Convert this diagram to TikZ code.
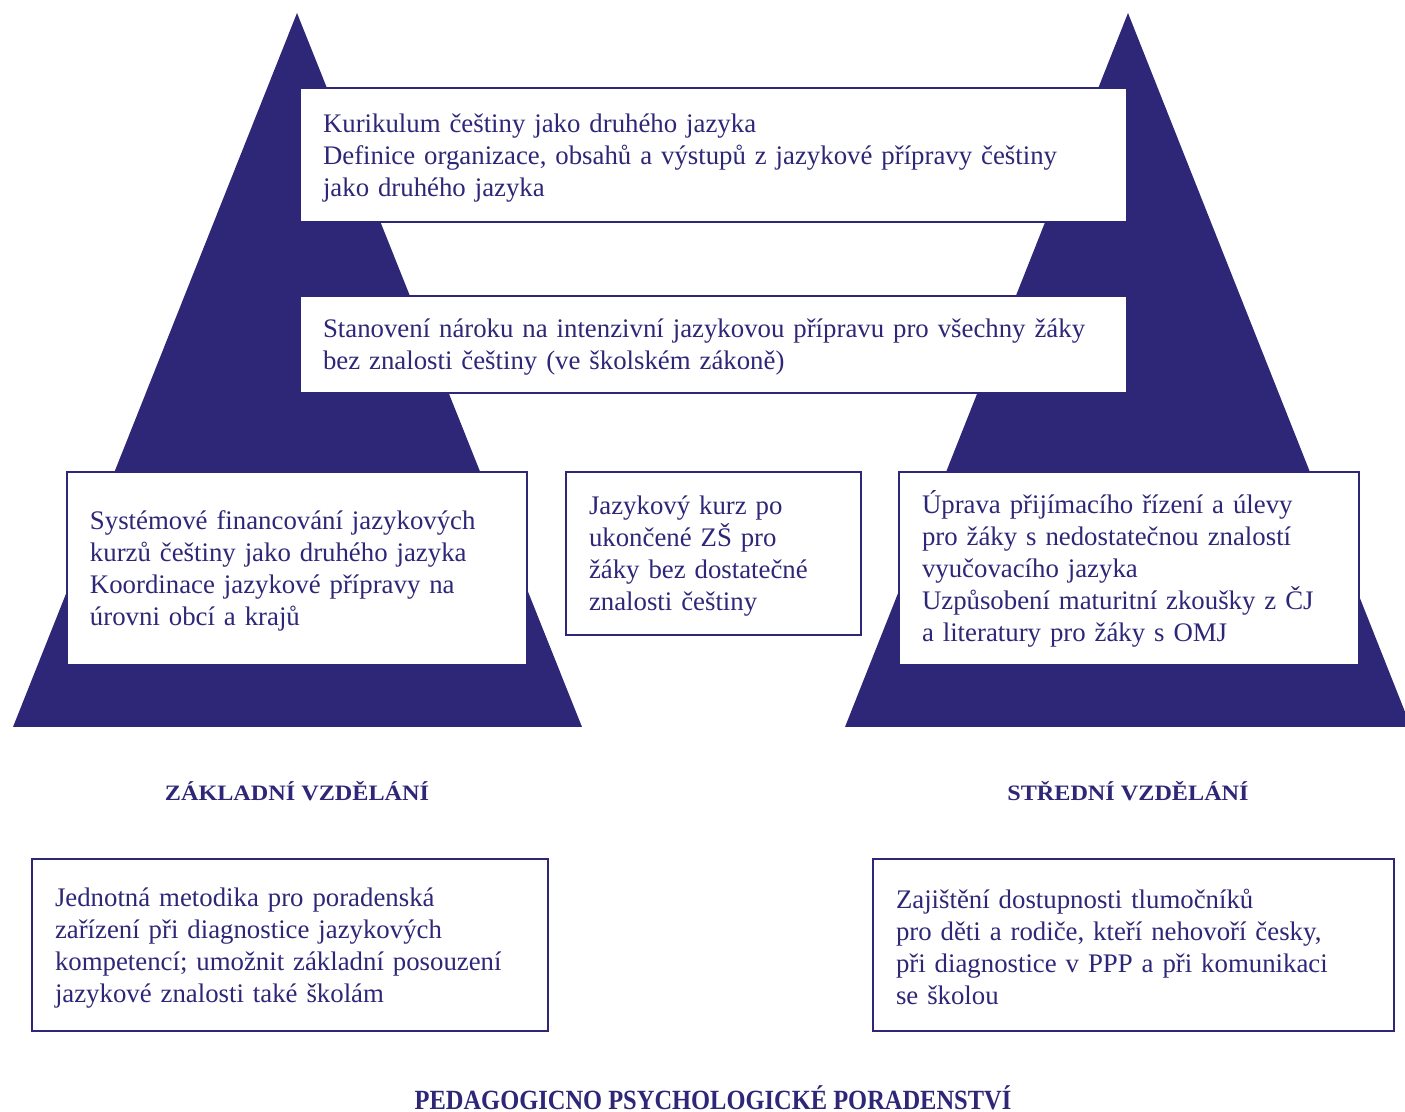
\documentclass[tikz,border=0pt]{standalone}
\usepackage{fontspec}
\setmainfont{Liberation Serif}
\newfontfamily\condfont[FakeStretch=0.88]{Liberation Serif}
\newfontfamily\widefont[FakeStretch=1.1]{Liberation Serif}
\definecolor{navy}{RGB}{46,39,120}
\begin{document}
\begin{tikzpicture}[x=0.5pt,y=-0.5pt,
  txtbox/.style={draw=navy, line width=1.1pt, fill=white, rectangle, inner xsep=11.5pt, inner ysep=0pt,
     align=left, text=navy, font=\fontsize{13.4}{16}\selectfont,
     execute at begin node={\rule{0pt}{12pt}}},
  heading/.style={text=navy, anchor=base, font=\widefont\fontsize{11}{14}\selectfont\bfseries},
  tri/.style={fill=navy, draw=none}]
\useasboundingbox (0,0) rectangle (1405,1112);
\clip (0,0) rectangle (1405,1112);
\fill[white] (0,0) rectangle (1405,1112);
% pyramids
\fill[tri] (297,13) -- (582,727) -- (13,727) -- cycle;
\fill[tri] (1128,13) -- (1411,727) -- (845,727) -- cycle;
% boxes
\node[txtbox, text width=390.5pt, minimum height=67pt] (b1) at (713.5,155)
 {Kurikulum češtiny jako druhého jazyka\\Definice organizace, obsahů a výstupů z jazykové přípravy češtiny\\jako druhého jazyka};
\node[txtbox, text width=390.5pt, minimum height=48.5pt] (b2) at (713.5,344.5)
 {Stanovení nároku na intenzivní jazykovou přípravu pro všechny žáky\\bez znalosti češtiny (ve školském zákoně)};
\node[txtbox, text width=207pt, minimum height=96.5pt] (b3) at (297,568.5)
 {Systémové financování jazykových\\kurzů češtiny jako druhého jazyka\\Koordinace jazykové přípravy na\\úrovni obcí a krajů};
\node[txtbox, text width=124.5pt, minimum height=81.5pt] (b4) at (713.5,553.5)
 {Jazykový kurz po\\ukončené ZŠ pro\\žáky bez dostatečné\\znalosti češtiny};
\node[txtbox, text width=207pt, minimum height=96.5pt] (b5) at (1129,568.5)
 {Úprava přijímacího řízení a úlevy\\pro žáky s nedostatečnou znalostí\\vyučovacího jazyka\\Uzpůsobení maturitní zkoušky z ČJ\\a literatury pro žáky s OMJ};
\node[txtbox, text width=235pt, minimum height=86pt] (b6) at (290,945)
 {Jednotná metodika pro poradenská\\zařízení při diagnostice jazykových\\kompetencí; umožnit základní posouzení\\jazykové znalosti také školám};
\node[txtbox, text width=237.5pt, minimum height=86pt] (b7) at (1133.5,945)
 {Zajištění dostupnosti tlumočníků\\pro děti a rodiče, kteří nehovoří česky,\\při diagnostice v PPP a při komunikaci\\se školou};
% headings
\node[heading] (h1) at (297,801) {ZÁKLADNÍ VZDĚLÁNÍ};
\node[heading] (h2) at (1128,801) {STŘEDNÍ VZDĚLÁNÍ};
\node[text=navy, anchor=base, font=\condfont\fontsize{13.9}{16}\selectfont\bfseries] (h3) at (713,1109) {PEDAGOGICNO PSYCHOLOGICKÉ PORADENSTVÍ};
\end{tikzpicture}
\end{document}
